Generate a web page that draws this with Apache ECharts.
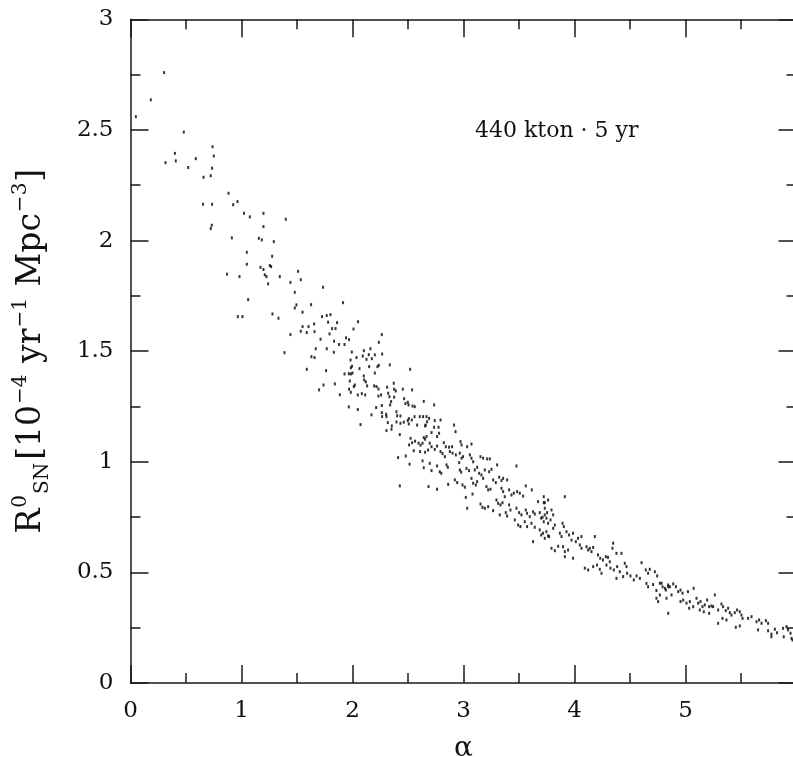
<!DOCTYPE html>
<html><head><meta charset="utf-8">
<script src="https://cdn.jsdelivr.net/npm/echarts@6/dist/echarts.min.js"></script>
<style>html,body{margin:0;padding:0;background:#fff}#c{width:793px;height:757px}</style>
</head><body><div id="c"></div>
<script>
// ---- data ----
const xTicks = [0, 1, 2, 3, 4, 5];
const yTicks = [0, 0.5, 1, 1.5, 2, 2.5, 3];
const annotation = "440 kton \u00b7 5 yr";
const alphaVals = [
0.303,0.183,0.048,0.48,0.739,0.40,0.75,0.315,0.408,0.588,0.52,0.735,0.658,0.723,0.883,0.925,0.964,0.654,0.735,1.023,1.075,1.198,1.399,1.198,0.732,0.723,0.913,1.156,1.183,1.291,1.048,1.276,
1.048,1.171,1.198,1.255,1.267,0.87,0.982,1.21,1.225,1.345,1.51,1.441,1.534,1.24,1.48,1.06,1.495,1.48,1.55,1.279,1.333,0.967,1.009,1.55,1.604,1.534,1.588,1.441,1.387,1.588,
1.735,1.627,1.915,1.726,1.768,1.802,1.654,1.658,1.78,1.861,2.05,1.816,1.847,2.009,1.793,2.264,1.942,1.969,1.712,1.834,1.879,1.928,2.237,1.669,1.768,1.832,1.994,2.102,2.162,2.093,2.147,1.63,1.658,2.267,1.982,2.036,2.126,2.174,2.201,2.15,1.985,1.996,2.063,2.225,2.237,1.762,2.336,2.519,1.928,1.967,1.985,2.0,2.102,2.201,2.105,2.12,2.132,1.976,2.012,2.021,1.841,1.739,2.195,2.216,2.234,2.312,2.321,2.333,2.372,2.375,2.39,2.453,2.537,1.969,1.699,1.985,2.048,2.084,2.114,1.886,2.234,2.258,2.375,2.465,2.477,2.498,2.505,2.642,2.264,2.339,2.348,2.541,2.561,1.967,2.048,2.213,2.171,2.264,2.267,2.303,2.306,2.396,2.402,2.432,2.507,2.534,2.559,2.606,2.636,2.667,2.072,2.318,2.354,2.396,2.432,2.462,2.498,2.507,2.582,2.654,2.306,2.351,2.426,2.523,2.537,2.564,2.642,2.654,2.667,2.51,2.595,2.613,2.631,2.552,2.609,2.654,2.681,2.411,2.48,2.514,2.631,2.642,2.426,2.685,
2.735,2.69,2.672,2.66,2.741,2.793,2.915,2.928,2.735,2.775,2.712,2.762,2.78,2.696,2.712,2.741,2.762,2.823,2.841,2.87,2.897,2.973,2.982,3.033,3.072,2.793,2.811,2.832,2.877,2.901,2.931,2.967,2.982,2.996,3.057,3.072,3.087,3.153,3.177,3.213,3.237,2.696,2.712,2.762,2.786,2.8,2.847,2.859,2.961,2.967,2.979,3.027,3.05,3.102,3.123,3.141,3.192,3.231,3.252,3.303,3.477,2.922,2.943,2.762,2.862,2.991,3.012,3.072,3.087,3.111,3.123,3.162,3.177,3.207,3.222,3.243,3.267,3.291,3.321,3.342,3.357,3.393,3.342,3.357,3.372,3.411,3.432,3.453,3.483,3.507,3.537,3.561,3.615,3.672,3.732,3.762,3.021,3.081,3.033,3.153,3.171,3.192,3.222,3.297,3.312,3.333,3.351,3.267,3.327,3.381,3.411,3.423,3.393,3.477,3.501,3.522,3.561,3.573,3.597,3.627,3.642,3.687,3.712,3.732,3.747,3.462,3.492,3.513,3.552,3.573,3.612,3.642,3.687,3.717,3.747,3.771,3.627,
3.723,3.723,3.913,3.732,3.753,3.793,3.808,3.7,3.723,3.762,3.784,3.823,3.808,3.892,3.904,3.7,3.732,3.762,3.868,3.883,3.928,3.951,3.973,3.987,4.012,4.032,4.063,3.793,3.823,3.853,3.897,3.913,3.942,3.913,3.987,4.108,4.123,4.138,4.153,4.168,4.183,4.048,4.063,4.212,4.232,4.257,4.282,4.302,4.318,4.348,4.342,4.378,4.423,4.093,4.123,4.168,4.203,4.228,4.243,4.288,4.324,4.354,4.384,4.408,4.453,4.468,4.378,4.438,4.474,4.504,4.534,4.559,4.589,4.604,4.642,4.663,4.678,4.724,4.745,4.648,4.663,4.708,4.738,4.784,4.814,4.844,4.738,4.753,
4.769,4.793,4.823,4.844,4.859,4.889,4.914,4.934,4.955,4.973,4.769,4.829,4.874,4.844,5.022,5.073,4.955,4.979,5.009,5.039,5.033,5.069,5.099,5.114,5.135,5.153,5.174,5.195,5.213,5.234,5.249,5.129,5.165,5.213,5.264,5.294,5.324,5.339,5.363,5.384,5.399,5.294,5.333,5.369,5.414,5.444,5.465,5.489,5.504,5.514,5.453,5.489,5.564,5.595,5.64,5.663,5.685,5.724,5.744,5.654,5.744,5.774,5.805,5.825,5.879,5.91,5.924,5.946,5.955,5.964,5.774,5.885
];
const rateVals = [
2.759,2.636,2.56,2.49,2.424,2.394,2.382,2.352,2.36,2.37,2.33,2.327,2.286,2.293,2.214,2.162,2.176,2.164,2.164,2.123,2.107,2.123,2.096,2.063,2.069,2.054,2.012,2.01,2.003,1.995,1.947,1.929,
1.893,1.879,1.869,1.887,1.882,1.848,1.837,1.845,1.837,1.837,1.861,1.811,1.823,1.804,1.766,1.733,1.709,1.695,1.676,1.668,1.649,1.656,1.656,1.611,1.611,1.59,1.584,1.575,1.493,1.418,
1.789,1.71,1.719,1.656,1.661,1.665,1.623,1.588,1.631,1.629,1.633,1.602,1.602,1.6,1.578,1.575,1.56,1.552,1.554,1.545,1.53,1.53,1.54,1.511,1.511,1.495,1.496,1.502,1.511,1.478,1.484,1.475,1.471,1.487,1.46,1.471,1.463,1.466,1.483,1.43,1.425,1.432,1.421,1.43,1.436,1.412,1.438,1.418,1.397,1.398,1.397,1.401,1.388,1.401,1.37,1.361,1.343,1.365,1.34,1.347,1.352,1.347,1.343,1.34,1.329,1.337,1.31,1.294,1.355,1.328,1.32,1.328,1.325,1.328,1.325,1.314,1.302,1.308,1.302,1.303,1.297,1.302,1.292,1.285,1.263,1.269,1.257,1.273,1.254,1.257,1.272,1.252,1.249,1.248,1.236,1.245,1.212,1.222,1.204,1.215,1.204,1.226,1.208,1.207,1.195,1.189,1.204,1.204,1.204,1.204,1.168,1.177,1.162,1.18,1.174,1.179,1.186,1.171,1.166,1.162,1.141,1.147,1.123,1.106,1.086,1.093,1.109,1.102,1.114,1.076,1.084,1.075,1.084,1.05,1.046,1.043,1.053,1.019,1.026,0.989,1.004,0.973,0.891,0.888,
1.257,1.196,1.181,1.166,1.186,1.189,1.166,1.136,1.156,1.156,1.132,1.114,1.129,1.084,1.068,1.056,1.071,1.086,1.068,1.066,1.068,1.091,1.076,1.068,1.08,1.046,1.037,1.023,1.046,1.039,1.031,1.039,1.016,1.023,1.031,1.016,1.0,1.023,1.016,1.013,1.013,0.993,0.96,0.981,0.955,0.948,0.986,0.975,0.996,0.963,0.953,0.97,0.96,0.963,0.975,0.948,0.963,0.955,0.966,0.986,0.981,0.918,0.906,0.876,0.898,0.895,0.885,0.925,0.903,0.895,0.91,0.94,0.925,0.888,0.873,0.876,0.918,0.906,0.93,0.915,0.925,0.918,0.88,0.865,0.842,0.873,0.85,0.858,0.865,0.858,0.845,0.891,0.873,0.82,0.815,0.827,0.839,0.854,0.79,0.809,0.794,0.79,0.797,0.827,0.812,0.805,0.815,0.779,0.76,0.77,0.805,0.782,0.755,0.79,0.77,0.76,0.782,0.767,0.752,0.774,0.764,0.77,0.749,0.76,0.745,0.737,0.714,0.707,0.729,0.707,0.722,0.704,0.692,0.677,0.684,0.662,0.639,
0.842,0.815,0.842,0.79,0.77,0.782,0.76,0.745,0.729,0.722,0.737,0.714,0.699,0.722,0.707,0.669,0.654,0.665,0.677,0.662,0.684,0.669,0.646,0.677,0.639,0.654,0.662,0.609,0.598,0.618,0.616,0.594,0.601,0.571,0.564,0.616,0.601,0.609,0.594,0.613,0.662,0.624,0.609,0.579,0.564,0.556,0.571,0.568,0.548,0.632,0.609,0.586,0.586,0.519,0.511,0.526,0.533,0.514,0.496,0.533,0.519,0.511,0.526,0.503,0.541,0.526,0.473,0.481,0.496,0.484,0.466,0.484,0.473,0.544,0.511,0.496,0.514,0.503,0.484,0.45,0.435,0.445,0.418,0.451,0.428,0.435,0.383,0.368,
0.451,0.435,0.42,0.443,0.435,0.448,0.435,0.413,0.42,0.406,0.398,0.383,0.398,0.315,0.413,0.428,0.368,0.375,0.361,0.368,0.338,0.345,0.383,0.361,0.368,0.345,0.353,0.375,0.345,0.348,0.345,0.33,0.322,0.315,0.398,0.33,0.357,0.345,0.327,0.338,0.318,0.27,0.292,0.285,0.307,0.318,0.33,0.322,0.307,0.292,0.252,0.258,0.292,0.3,0.277,0.285,0.27,0.282,0.27,0.24,0.236,0.221,0.243,0.227,0.247,0.255,0.24,0.225,0.202,0.194,0.209,0.209
];
// ---------------------------------------------
const points = alphaVals.map((a, i) => [a, rateVals[i]]);
const FONT = "'DejaVu Serif', 'Liberation Serif', serif";
const LINE = { color: '#1a1a1a', width: 1.5 };
function xAxisCfg(pos, showLabel) {
  return {
    type: 'value', position: pos, min: 0, max: 6, interval: 1,
    axisLine: { show: true, onZero: false, lineStyle: LINE },
    axisTick: { show: true, inside: true, length: 18, lineStyle: LINE },
    minorTick: { show: true, splitNumber: 2, length: 10, lineStyle: LINE },
    splitLine: { show: false },
    axisLabel: {
      show: showLabel, margin: 17, fontFamily: FONT, fontSize: 23, color: '#111',
      formatter: v => (xTicks.indexOf(v) >= 0 ? String(v) : '')
    },
    name: showLabel ? '\u03b1' : '', nameLocation: 'middle', nameGap: 52,
    nameTextStyle: { fontFamily: FONT, fontSize: 28, color: '#111' }
  };
}
function yAxisCfg(pos, showLabel) {
  return {
    type: 'value', position: pos, min: 0, max: 3, interval: 0.5,
    axisLine: { show: true, onZero: false, lineStyle: LINE },
    axisTick: { show: true, inside: true, length: 18, lineStyle: LINE },
    minorTick: { show: true, splitNumber: 2, length: 10, lineStyle: LINE },
    splitLine: { show: false },
    axisLabel: {
      show: showLabel, margin: 17, fontFamily: FONT, fontSize: 23, color: '#111',
      formatter: v => (yTicks.indexOf(v) >= 0 ? String(v) : '')
    }
  };
}
const yLeft = yAxisCfg('left', true);
yLeft.name = '{b|R}{sup|0}{sub|SN}{b|[10}{sup|\u22124} {b|yr}{sup|\u22121} {b|Mpc}{sup|\u22123}{b|]}';
yLeft.nameLocation = 'middle';
yLeft.nameRotate = 90;
yLeft.nameGap = 78;
yLeft.nameTextStyle = {
  fontFamily: FONT, fontSize: 33, color: '#111',
  rich: {
    b: { fontFamily: FONT, fontSize: 33, color: '#111', lineHeight: 42 },
    sup: { fontFamily: FONT, fontSize: 20, color: '#111', verticalAlign: 'top', lineHeight: 42, padding: [0, 1, 0, 1] },
    sub: { fontFamily: FONT, fontSize: 20, color: '#111', verticalAlign: 'bottom', lineHeight: 42, padding: [0, 3, 0, 0] }
  }
};
const chart = echarts.init(document.getElementById('c'), null, { renderer: 'canvas' });
chart.setOption({
  animation: false,
  backgroundColor: '#fff',
  grid: { left: 130.5, top: 19.3, width: 666, height: 663.7, containLabel: false, outerBoundsMode: 'none' },
  xAxis: [xAxisCfg('bottom', true), xAxisCfg('top', false)],
  yAxis: [yLeft, yAxisCfg('right', false)],
  graphic: [{
    type: 'text', left: 475, top: 120,
    style: { text: annotation, fontFamily: FONT, fontSize: 22, fill: '#111' }
  }],
  series: [{
    type: 'scatter', xAxisIndex: 0, yAxisIndex: 0,
    data: points, symbol: 'rect', symbolSize: [2, 3],
    itemStyle: { color: '#000' }, silent: true
  }]
});
</script></body></html>
